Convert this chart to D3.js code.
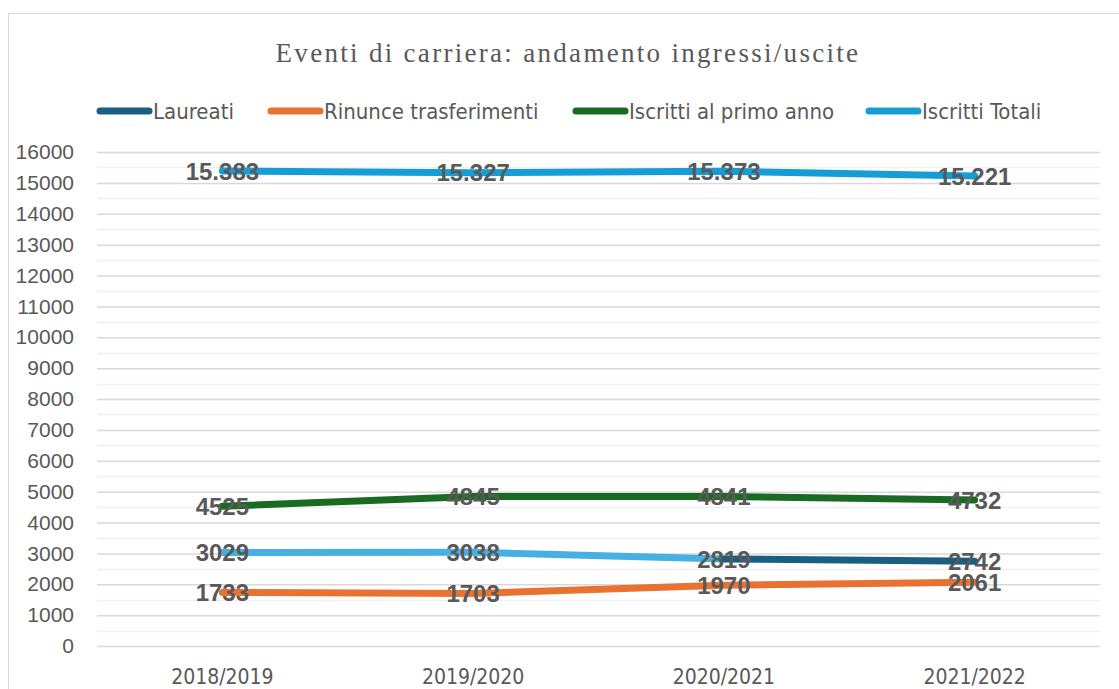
<!DOCTYPE html>
<html>
<head>
<meta charset="utf-8">
<script src="https://cdn.jsdelivr.net/npm/d3@7"></script>
<style>
  body { margin: 0; background: #fff; }
  svg { display: block; }
</style>
</head>
<body>
<div id="vis"></div>
<script>
const categories = ["2018/2019", "2019/2020", "2020/2021", "2021/2022"];
const laureati = [3029, 3038, 2819, 2742];
const rinunce = [1733, 1703, 1970, 2061];
const primoAnno = [4525, 4845, 4841, 4732];
const totali = [15383, 15327, 15373, 15221];
const yTicks = d3.range(0, 16001, 1000);

// per-series styling; Laureati has the first two segments drawn light
const series = [
    { name: "Laureati", values: laureati, color: "#1A5E82", segColors: ["#45B0E1", "#45B0E1", "#1A5E82"] },
    { name: "Rinunce trasferimenti", values: rinunce, color: "#E97132" },
    { name: "Iscritti al primo anno", values: primoAnno, color: "#196B24" },
    { name: "Iscritti Totali", values: totali, color: "#159ED5", dotted: true }
];

const width = 1119, height = 689;
const margin = { left: 97, right: 19, top: 152, bottom: 43 };
const narrow = "'DejaVu Sans Condensed', 'Liberation Sans Narrow', Arial, sans-serif";

const svg = d3.select("#vis").append("svg")
    .attr("width", width)
    .attr("height", height);

// chart frame
svg.append("rect")
    .attr("x", 8.5).attr("y", 13.5)
    .attr("width", 1200).attr("height", 800)
    .attr("fill", "#fff")
    .attr("stroke", "#d9d9d9");

const x = d3.scaleBand()
    .domain(categories)
    .range([margin.left, width - margin.right]);

const y = d3.scaleLinear()
    .domain([0, 16000])
    .range([height - margin.bottom, margin.top]);

// minor gridlines
svg.append("g")
    .selectAll("line")
    .data(d3.range(500, 16000, 1000))
    .join("line")
    .attr("x1", margin.left).attr("x2", width - margin.right)
    .attr("y1", d => Math.round(y(d)) + 0.5).attr("y2", d => Math.round(y(d)) + 0.5)
    .attr("stroke", "#f0f0f0")
    .attr("stroke-width", 1.5);

// major gridlines + labels
const yAxis = d3.axisLeft(y)
    .tickValues(yTicks)
    .tickSize(-(width - margin.left - margin.right))
    .tickPadding(23)
    .tickFormat(d3.format("d"));

svg.append("g")
    .attr("transform", `translate(${margin.left},0)`)
    .call(yAxis)
    .call(g => g.select(".domain").remove())
    .call(g => g.selectAll(".tick line").attr("stroke", "#d9d9d9").attr("stroke-width", 1.5))
    .call(g => g.selectAll(".tick text")
        .attr("fill", "#595959")
        .style("font", "21px 'Liberation Sans', Arial, sans-serif"));

const xAxis = d3.axisBottom(x).tickSize(0).tickPadding(23);
svg.append("g")
    .attr("transform", `translate(0,${y(0)})`)
    .call(xAxis)
    .call(g => g.select(".domain").remove())
    .call(g => g.selectAll(".tick text")
        .attr("fill", "#595959")
        .style("font", "21px " + narrow));

const cx = c => x(c) + x.bandwidth() / 2;

const line = d3.line()
    .x((d, i) => cx(categories[i]))
    .y(d => y(d));

// lines
const gLines = svg.append("g")
    .attr("fill", "none")
    .attr("stroke-width", 7)
    .attr("stroke-linecap", "round")
    .attr("stroke-linejoin", "round");

series.forEach(s => {
    if (s.segColors) {
        s.values.slice(1).forEach((v, i) => {
            gLines.append("path")
                .attr("stroke", s.segColors[i])
                .attr("d", d3.line()([[cx(categories[i]), y(s.values[i])], [cx(categories[i + 1]), y(v)]]));
        });
    } else {
        gLines.append("path")
            .attr("stroke", s.color)
            .attr("d", line(s.values));
    }
});

// data labels
const itFmt = d3.formatLocale({ decimal: ",", thousands: ".", grouping: [3], currency: ["€", ""] }).format(",d");

const gLabels = svg.append("g")
    .attr("text-anchor", "middle")
    .attr("fill", "#595959")
    .style("font", "bold 24px 'Liberation Sans', Arial, sans-serif");

series.forEach(s => {
    gLabels.selectAll(null)
        .data(s.values)
        .join("text")
        .attr("x", (d, i) => cx(categories[i]))
        .attr("y", d => y(d))
        .attr("dy", "0.36em")
        .text(d => s.dotted ? itFmt(d) : d);
});

// title
svg.append("text")
    .attr("x", 568).attr("y", 62)
    .attr("text-anchor", "middle")
    .attr("fill", "#595959")
    .style("font", "27px 'Liberation Serif', 'Times New Roman', serif")
    .style("letter-spacing", "2.3px")
    .text("Eventi di carriera: andamento ingressi/uscite");

// legend
const legendX = [97, 268, 573, 866];
const legend = svg.append("g")
    .selectAll("g")
    .data(series)
    .join("g")
    .attr("transform", (d, i) => `translate(${legendX[i]},111)`);

legend.append("line")
    .attr("x1", 3).attr("x2", 52)
    .attr("stroke", d => d.color)
    .attr("stroke-width", 7)
    .attr("stroke-linecap", "round");

legend.append("text")
    .attr("x", 56)
    .attr("dy", "0.35em")
    .attr("fill", "#595959")
    .style("font", "22px " + narrow)
    .text(d => d.name);
</script>
</body>
</html>
